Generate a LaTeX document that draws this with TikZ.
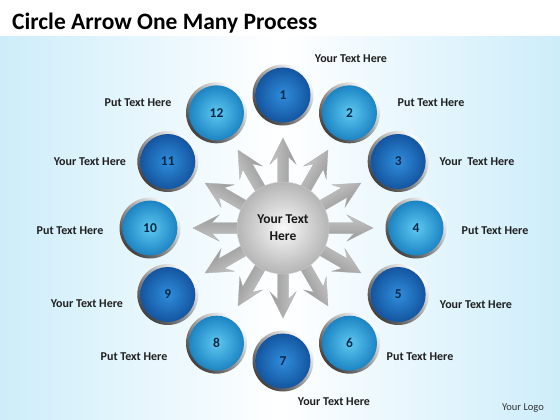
\documentclass[tikz,border=0pt]{standalone}
\usepackage{fontspec}
\setmainfont{Carlito}
\definecolor{bgblue}{HTML}{CDEDFA}
\definecolor{dkin}{HTML}{2F8EDC}
\definecolor{dkout}{HTML}{1455A0}
\definecolor{ltin}{HTML}{5EC8F1}
\definecolor{ltout}{HTML}{1C84C3}
\definecolor{numcol}{HTML}{0A2744}
\begin{document}
\begin{tikzpicture}[x=1pt,y=-1pt,
  lbl/.style={font=\fontsize{12}{13}\selectfont\bfseries, text=black!88, inner sep=0pt},
  ballnum/.style={font=\fontsize{13.5}{14}\selectfont\bfseries, text=numcol},
  rim/.style={circle, minimum size=61pt, inner sep=0pt, shade, top color=white, bottom color=black!75, shading angle=-45},
  balldk/.style={circle, minimum size=55pt, inner sep=0pt, shade, inner color=dkin, outer color=dkout},
  balllt/.style={circle, minimum size=55pt, inner sep=0pt, shade, inner color=ltin, outer color=ltout},
  arrowbody/.style={shade, top color=gray!45, middle color=white, bottom color=gray!80, draw=gray!65, line width=0.3pt},
  hub/.style={circle, minimum size=92pt, inner sep=0pt, shade, inner color=gray!4, outer color=gray!58, draw=gray!40, line width=0.4pt, align=center, font=\fontsize{13.5}{17}\selectfont\bfseries, text=black!90}
]
\useasboundingbox (0,0) rectangle (560,420);
\fill[white] (0,0) rectangle (560,420);
\shade[left color=bgblue, right color=bgblue, middle color=white] (0,37) rectangle (560,420);

\node[anchor=base west, inner sep=0pt, font=\fontsize{23.5}{28}\selectfont\bfseries] (title) at (12,30) {Circle Arrow One Many Process};

\coordinate (o) at (283,228);

% radiating arrows
\foreach \a in {0,30,...,330}{
  \begin{scope}[transform canvas={rotate around={\a:(o)}}]
    \path[arrowbody] (323,222.5) -- (354,222.5) -- (347,215) -- (373,228) -- (347,241) -- (354,233.5) -- (323,233.5) -- cycle;
  \end{scope}
}

\node[hub] (center) at (o) {Your Text\\Here};

% balls
\foreach \k/\c in {1/dk,2/lt,3/dk,4/lt,5/dk,6/lt,7/dk,8/lt,9/dk,10/lt,11/dk,12/lt}{
  \pgfmathsetmacro\px{283+133*cos(120-30*\k)}
  \pgfmathsetmacro\py{228-133*sin(120-30*\k)}
  \node[rim] (r\k) at (\px,\py) {};
  \node[ball\c, ballnum] (c\k) at (\px,\py) {\k};
}

% labels
\node[lbl] (l1) at (351,59) {Your Text Here};
\node[lbl] (l2) at (431,103) {Put Text Here};
\node[lbl] (l3) at (477,162) {Your\ \ Text Here};
\node[lbl] (l4) at (495,231) {Put Text Here};
\node[lbl] (l5) at (476,305) {Your Text Here};
\node[lbl] (l6) at (420,357) {Put Text Here};
\node[lbl] (l7) at (334,402) {Your Text Here};
\node[lbl] (l8) at (134,357) {Put Text Here};
\node[lbl] (l9) at (87,304) {Your Text Here};
\node[lbl] (l10) at (70,231) {Put Text Here};
\node[lbl] (l11) at (90,162) {Your Text Here};
\node[lbl] (l12) at (138,103) {Put Text Here};

\node[font=\fontsize{10.5}{12}\selectfont, text=black!80, inner sep=0pt] (logo) at (523,408) {Your Logo};
\end{tikzpicture}
\end{document}
